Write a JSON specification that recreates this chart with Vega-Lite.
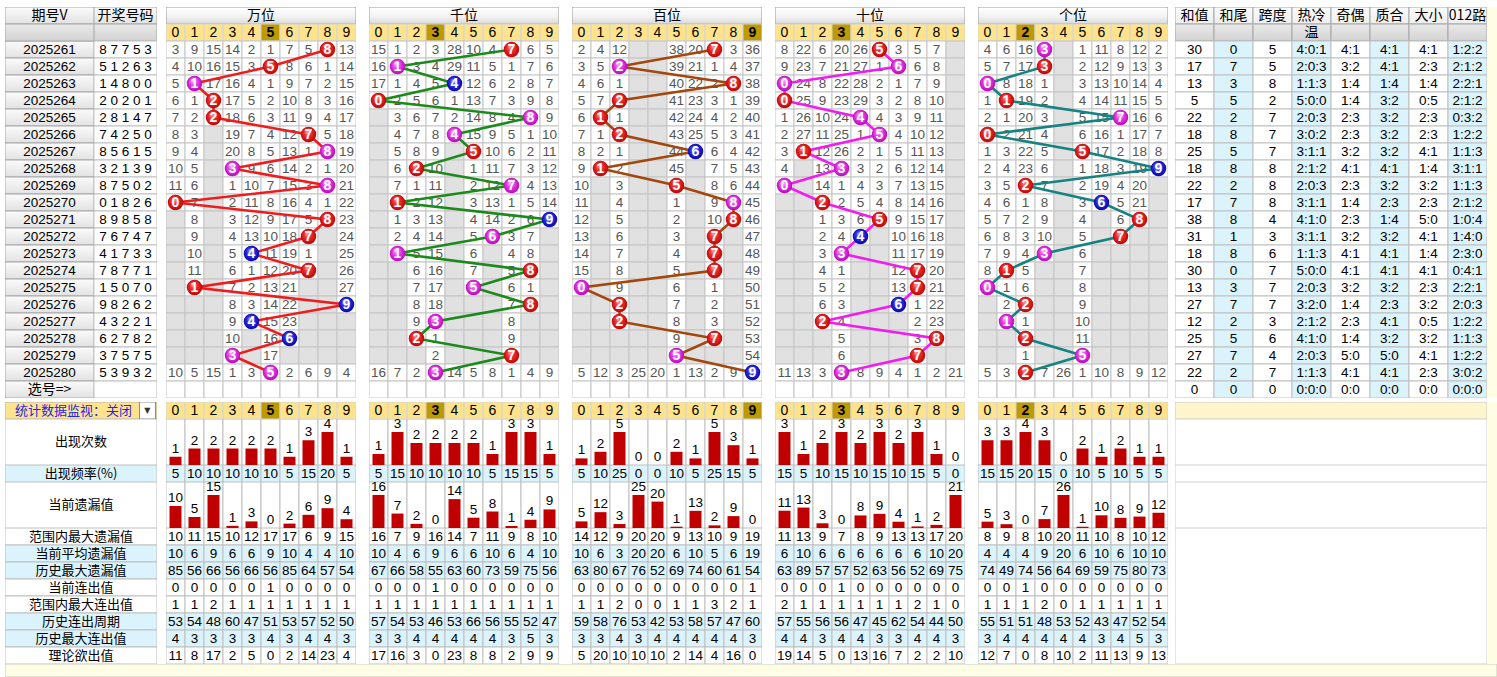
{
"$schema":"https://vega.github.io/schema/vega-lite/v6.json",
"padding":{"left":5,"top":7,"right":0,"bottom":0},
"background":"#ffffff",
"spacing":4,
"config":{
 "view":{"stroke":null},
 "scale":{"bandPaddingInner":0,"bandPaddingOuter":0,"barBandPaddingInner":0,"rectBandPaddingInner":0},
 "text":{"font":"Liberation Sans","fontSize":13,"color":"#000000"},
 "facet":{"spacing":13}
},
"datasets":{
 "left":[{"r":"h1","a":"期号V","b":"开奖号码"},{"r":"h2"},
  {"r":"2025261","b":"8 7 7 5 3"},{"r":"2025262","b":"5 1 2 6 3"},{"r":"2025263","b":"1 4 8 0 0"},{"r":"2025264","b":"2 0 2 0 1"},{"r":"2025265","b":"2 8 1 4 7"},
  {"r":"2025266","b":"7 4 2 5 0"},{"r":"2025267","b":"8 5 6 1 5"},{"r":"2025268","b":"3 2 1 3 9"},{"r":"2025269","b":"8 7 5 0 2"},{"r":"2025270","b":"0 1 8 2 6"},
  {"r":"2025271","b":"8 9 8 5 8"},{"r":"2025272","b":"7 6 7 4 7"},{"r":"2025273","b":"4 1 7 3 3"},{"r":"2025274","b":"7 8 7 7 1"},{"r":"2025275","b":"1 5 0 7 0"},
  {"r":"2025276","b":"9 8 2 6 2"},{"r":"2025277","b":"4 3 2 2 1"},{"r":"2025278","b":"6 2 7 8 2"},{"r":"2025279","b":"3 7 5 7 5"},{"r":"2025280","b":"5 3 9 3 2"},
  {"r":"sel","a":"选号=>"}],
 "st":[{"r":"h1","和值":"和值","和尾":"和尾","跨度":"跨度","热冷温":"热冷","奇偶":"奇偶","质合":"质合","大小":"大小","012路":"012路"},
  {"r":"h2","热冷温":"温"},
  {"r":"2025261","和值":30,"和尾":0,"跨度":5,"热冷温":"4:0:1","奇偶":"4:1","质合":"4:1","大小":"4:1","012路":"1:2:2"},
  {"r":"2025262","和值":17,"和尾":7,"跨度":5,"热冷温":"2:0:3","奇偶":"3:2","质合":"4:1","大小":"2:3","012路":"2:1:2"},
  {"r":"2025263","和值":13,"和尾":3,"跨度":8,"热冷温":"1:1:3","奇偶":"1:4","质合":"1:4","大小":"1:4","012路":"2:2:1"},
  {"r":"2025264","和值":5,"和尾":5,"跨度":2,"热冷温":"5:0:0","奇偶":"1:4","质合":"3:2","大小":"0:5","012路":"2:1:2"},
  {"r":"2025265","和值":22,"和尾":2,"跨度":7,"热冷温":"2:0:3","奇偶":"2:3","质合":"3:2","大小":"2:3","012路":"0:3:2"},
  {"r":"2025266","和值":18,"和尾":8,"跨度":7,"热冷温":"3:0:2","奇偶":"2:3","质合":"3:2","大小":"2:3","012路":"1:2:2"},
  {"r":"2025267","和值":25,"和尾":5,"跨度":7,"热冷温":"3:1:1","奇偶":"3:2","质合":"3:2","大小":"4:1","012路":"1:1:3"},
  {"r":"2025268","和值":18,"和尾":8,"跨度":8,"热冷温":"2:1:2","奇偶":"4:1","质合":"4:1","大小":"1:4","012路":"3:1:1"},
  {"r":"2025269","和值":22,"和尾":2,"跨度":8,"热冷温":"2:0:3","奇偶":"2:3","质合":"3:2","大小":"3:2","012路":"1:1:3"},
  {"r":"2025270","和值":17,"和尾":7,"跨度":8,"热冷温":"3:1:1","奇偶":"1:4","质合":"2:3","大小":"2:3","012路":"2:1:2"},
  {"r":"2025271","和值":38,"和尾":8,"跨度":4,"热冷温":"4:1:0","奇偶":"2:3","质合":"1:4","大小":"5:0","012路":"1:0:4"},
  {"r":"2025272","和值":31,"和尾":1,"跨度":3,"热冷温":"3:1:1","奇偶":"3:2","质合":"3:2","大小":"4:1","012路":"1:4:0"},
  {"r":"2025273","和值":18,"和尾":8,"跨度":6,"热冷温":"1:1:3","奇偶":"4:1","质合":"4:1","大小":"1:4","012路":"2:3:0"},
  {"r":"2025274","和值":30,"和尾":0,"跨度":7,"热冷温":"5:0:0","奇偶":"4:1","质合":"4:1","大小":"4:1","012路":"0:4:1"},
  {"r":"2025275","和值":13,"和尾":3,"跨度":7,"热冷温":"2:0:3","奇偶":"3:2","质合":"3:2","大小":"2:3","012路":"2:2:1"},
  {"r":"2025276","和值":27,"和尾":7,"跨度":7,"热冷温":"3:2:0","奇偶":"1:4","质合":"2:3","大小":"3:2","012路":"2:0:3"},
  {"r":"2025277","和值":12,"和尾":2,"跨度":3,"热冷温":"2:1:2","奇偶":"2:3","质合":"4:1","大小":"0:5","012路":"1:2:2"},
  {"r":"2025278","和值":25,"和尾":5,"跨度":6,"热冷温":"4:1:0","奇偶":"1:4","质合":"3:2","大小":"3:2","012路":"1:1:3"},
  {"r":"2025279","和值":27,"和尾":7,"跨度":4,"热冷温":"2:0:3","奇偶":"5:0","质合":"5:0","大小":"4:1","012路":"1:2:2"},
  {"r":"2025280","和值":22,"和尾":2,"跨度":7,"热冷温":"1:1:3","奇偶":"4:1","质合":"4:1","大小":"2:3","012路":"3:0:2"},
  {"r":"sel","和值":0,"和尾":0,"跨度":0,"热冷温":"0:0:0","奇偶":"0:0","质合":"0:0","大小":"0:0","012路":"0:0:0"}],
 "top":[
  {"k":"h","p":"万位","r":"h1"},{"k":"dh","p":"万位","r":"h2","cur":"5"},
  {"k":"c","p":"万位","r":"2025261","t":"热","0":3,"1":9,"2":15,"3":14,"4":2,"5":1,"6":7,"7":5,"8":0,"9":13},
  {"k":"c","p":"万位","r":"2025262","t":"热","0":4,"1":10,"2":16,"3":15,"4":3,"5":0,"6":8,"7":6,"8":1,"9":14},
  {"k":"c","p":"万位","r":"2025263","t":"温","0":5,"1":0,"2":17,"3":16,"4":4,"5":1,"6":9,"7":7,"8":2,"9":15},
  {"k":"c","p":"万位","r":"2025264","t":"热","0":6,"1":1,"2":0,"3":17,"4":5,"5":2,"6":10,"7":8,"8":3,"9":16},
  {"k":"c","p":"万位","r":"2025265","t":"热","0":7,"1":2,"2":0,"3":18,"4":6,"5":3,"6":11,"7":9,"8":4,"9":17},
  {"k":"c","p":"万位","r":"2025266","t":"热","0":8,"1":3,"2":null,"3":19,"4":7,"5":4,"6":12,"7":0,"8":5,"9":18},
  {"k":"c","p":"万位","r":"2025267","t":"温","0":9,"1":4,"2":null,"3":20,"4":8,"5":5,"6":13,"7":1,"8":0,"9":19},
  {"k":"c","p":"万位","r":"2025268","t":"温","0":10,"1":5,"2":null,"3":0,"4":9,"5":6,"6":14,"7":2,"8":1,"9":20},
  {"k":"c","p":"万位","r":"2025269","t":"温","0":11,"1":6,"2":null,"3":1,"4":10,"5":7,"6":15,"7":3,"8":0,"9":21},
  {"k":"c","p":"万位","r":"2025270","t":"热","0":0,"1":7,"2":null,"3":2,"4":11,"5":8,"6":16,"7":4,"8":1,"9":22},
  {"k":"c","p":"万位","r":"2025271","t":"热","0":null,"1":8,"2":null,"3":3,"4":12,"5":9,"6":17,"7":5,"8":0,"9":23},
  {"k":"c","p":"万位","r":"2025272","t":"热","0":null,"1":9,"2":null,"3":4,"4":13,"5":10,"6":18,"7":0,"8":null,"9":24},
  {"k":"c","p":"万位","r":"2025273","t":"冷","0":null,"1":10,"2":null,"3":5,"4":0,"5":11,"6":19,"7":1,"8":null,"9":25},
  {"k":"c","p":"万位","r":"2025274","t":"热","0":null,"1":11,"2":null,"3":6,"4":1,"5":12,"6":20,"7":0,"8":null,"9":26},
  {"k":"c","p":"万位","r":"2025275","t":"热","0":null,"1":0,"2":null,"3":7,"4":2,"5":13,"6":21,"7":null,"8":null,"9":27},
  {"k":"c","p":"万位","r":"2025276","t":"冷","0":null,"1":null,"2":null,"3":8,"4":3,"5":14,"6":22,"7":null,"8":null,"9":0},
  {"k":"c","p":"万位","r":"2025277","t":"冷","0":null,"1":null,"2":null,"3":9,"4":0,"5":15,"6":23,"7":null,"8":null,"9":null},
  {"k":"c","p":"万位","r":"2025278","t":"冷","0":null,"1":null,"2":null,"3":10,"4":null,"5":16,"6":0,"7":null,"8":null,"9":null},
  {"k":"c","p":"万位","r":"2025279","t":"温","0":null,"1":null,"2":null,"3":0,"4":null,"5":17,"6":null,"7":null,"8":null,"9":null},
  {"k":"c","p":"万位","r":"2025280","t":"温","0":10,"1":5,"2":15,"3":1,"4":3,"5":0,"6":2,"7":6,"8":9,"9":4},
  {"k":"c","p":"万位","r":"sel"},
  {"k":"h","p":"千位","r":"h1"},{"k":"dh","p":"千位","r":"h2","cur":"3"},
  {"k":"c","p":"千位","r":"2025261","t":"热","0":15,"1":1,"2":2,"3":3,"4":28,"5":10,"6":4,"7":0,"8":6,"9":5},
  {"k":"c","p":"千位","r":"2025262","t":"温","0":16,"1":0,"2":3,"3":4,"4":29,"5":11,"6":5,"7":1,"8":7,"9":6},
  {"k":"c","p":"千位","r":"2025263","t":"冷","0":17,"1":1,"2":4,"3":5,"4":0,"5":12,"6":6,"7":2,"8":8,"9":7},
  {"k":"c","p":"千位","r":"2025264","t":"热","0":0,"1":2,"2":5,"3":6,"4":1,"5":13,"6":7,"7":3,"8":9,"9":8},
  {"k":"c","p":"千位","r":"2025265","t":"温","0":null,"1":3,"2":6,"3":7,"4":2,"5":14,"6":8,"7":4,"8":0,"9":9},
  {"k":"c","p":"千位","r":"2025266","t":"温","0":null,"1":4,"2":7,"3":8,"4":0,"5":15,"6":9,"7":5,"8":1,"9":10},
  {"k":"c","p":"千位","r":"2025267","t":"热","0":null,"1":5,"2":8,"3":9,"4":null,"5":0,"6":10,"7":6,"8":2,"9":11},
  {"k":"c","p":"千位","r":"2025268","t":"热","0":null,"1":6,"2":0,"3":10,"4":null,"5":1,"6":11,"7":7,"8":3,"9":12},
  {"k":"c","p":"千位","r":"2025269","t":"温","0":null,"1":7,"2":1,"3":11,"4":null,"5":2,"6":12,"7":0,"8":4,"9":13},
  {"k":"c","p":"千位","r":"2025270","t":"热","0":null,"1":0,"2":2,"3":12,"4":null,"5":3,"6":13,"7":1,"8":5,"9":14},
  {"k":"c","p":"千位","r":"2025271","t":"冷","0":null,"1":1,"2":3,"3":13,"4":null,"5":4,"6":14,"7":2,"8":6,"9":0},
  {"k":"c","p":"千位","r":"2025272","t":"温","0":null,"1":2,"2":4,"3":14,"4":null,"5":5,"6":0,"7":3,"8":7,"9":null},
  {"k":"c","p":"千位","r":"2025273","t":"温","0":null,"1":0,"2":5,"3":15,"4":null,"5":6,"6":null,"7":4,"8":8,"9":null},
  {"k":"c","p":"千位","r":"2025274","t":"热","0":null,"1":null,"2":6,"3":16,"4":null,"5":7,"6":null,"7":5,"8":0,"9":null},
  {"k":"c","p":"千位","r":"2025275","t":"温","0":null,"1":null,"2":7,"3":17,"4":null,"5":0,"6":null,"7":6,"8":1,"9":null},
  {"k":"c","p":"千位","r":"2025276","t":"热","0":null,"1":null,"2":8,"3":18,"4":null,"5":null,"6":null,"7":7,"8":0,"9":null},
  {"k":"c","p":"千位","r":"2025277","t":"温","0":null,"1":null,"2":9,"3":0,"4":null,"5":null,"6":null,"7":8,"8":null,"9":null},
  {"k":"c","p":"千位","r":"2025278","t":"热","0":null,"1":null,"2":0,"3":1,"4":null,"5":null,"6":null,"7":9,"8":null,"9":null},
  {"k":"c","p":"千位","r":"2025279","t":"热","0":null,"1":null,"2":null,"3":2,"4":null,"5":null,"6":null,"7":0,"8":null,"9":null},
  {"k":"c","p":"千位","r":"2025280","t":"温","0":16,"1":7,"2":2,"3":0,"4":14,"5":5,"6":8,"7":1,"8":4,"9":9},
  {"k":"c","p":"千位","r":"sel"},
  {"k":"h","p":"百位","r":"h1"},{"k":"dh","p":"百位","r":"h2","cur":"9"},
  {"k":"c","p":"百位","r":"2025261","t":"热","0":2,"1":4,"2":12,"3":null,"4":null,"5":38,"6":20,"7":0,"8":3,"9":36},
  {"k":"c","p":"百位","r":"2025262","t":"温","0":3,"1":5,"2":0,"3":null,"4":null,"5":39,"6":21,"7":1,"8":4,"9":37},
  {"k":"c","p":"百位","r":"2025263","t":"热","0":4,"1":6,"2":1,"3":null,"4":null,"5":40,"6":22,"7":2,"8":0,"9":38},
  {"k":"c","p":"百位","r":"2025264","t":"热","0":5,"1":7,"2":0,"3":null,"4":null,"5":41,"6":23,"7":3,"8":1,"9":39},
  {"k":"c","p":"百位","r":"2025265","t":"热","0":6,"1":0,"2":1,"3":null,"4":null,"5":42,"6":24,"7":4,"8":2,"9":40},
  {"k":"c","p":"百位","r":"2025266","t":"热","0":7,"1":1,"2":0,"3":null,"4":null,"5":43,"6":25,"7":5,"8":3,"9":41},
  {"k":"c","p":"百位","r":"2025267","t":"冷","0":8,"1":2,"2":1,"3":null,"4":null,"5":44,"6":0,"7":6,"8":4,"9":42},
  {"k":"c","p":"百位","r":"2025268","t":"热","0":9,"1":0,"2":2,"3":null,"4":null,"5":45,"6":null,"7":7,"8":5,"9":43},
  {"k":"c","p":"百位","r":"2025269","t":"热","0":10,"1":null,"2":3,"3":null,"4":null,"5":0,"6":null,"7":8,"8":6,"9":44},
  {"k":"c","p":"百位","r":"2025270","t":"温","0":11,"1":null,"2":4,"3":null,"4":null,"5":1,"6":null,"7":9,"8":0,"9":45},
  {"k":"c","p":"百位","r":"2025271","t":"热","0":12,"1":null,"2":5,"3":null,"4":null,"5":2,"6":null,"7":10,"8":0,"9":46},
  {"k":"c","p":"百位","r":"2025272","t":"热","0":13,"1":null,"2":6,"3":null,"4":null,"5":3,"6":null,"7":0,"8":null,"9":47},
  {"k":"c","p":"百位","r":"2025273","t":"热","0":14,"1":null,"2":7,"3":null,"4":null,"5":4,"6":null,"7":0,"8":null,"9":48},
  {"k":"c","p":"百位","r":"2025274","t":"热","0":15,"1":null,"2":8,"3":null,"4":null,"5":5,"6":null,"7":0,"8":null,"9":49},
  {"k":"c","p":"百位","r":"2025275","t":"温","0":0,"1":null,"2":9,"3":null,"4":null,"5":6,"6":null,"7":1,"8":null,"9":50},
  {"k":"c","p":"百位","r":"2025276","t":"热","0":null,"1":null,"2":0,"3":null,"4":null,"5":7,"6":null,"7":2,"8":null,"9":51},
  {"k":"c","p":"百位","r":"2025277","t":"热","0":null,"1":null,"2":0,"3":null,"4":null,"5":8,"6":null,"7":3,"8":null,"9":52},
  {"k":"c","p":"百位","r":"2025278","t":"热","0":null,"1":null,"2":null,"3":null,"4":null,"5":9,"6":null,"7":0,"8":null,"9":53},
  {"k":"c","p":"百位","r":"2025279","t":"温","0":null,"1":null,"2":null,"3":null,"4":null,"5":0,"6":null,"7":null,"8":null,"9":54},
  {"k":"c","p":"百位","r":"2025280","t":"冷","0":5,"1":12,"2":3,"3":25,"4":20,"5":1,"6":13,"7":2,"8":9,"9":0},
  {"k":"c","p":"百位","r":"sel"},
  {"k":"h","p":"十位","r":"h1"},{"k":"dh","p":"十位","r":"h2","cur":"3"},
  {"k":"c","p":"十位","r":"2025261","t":"热","0":8,"1":22,"2":6,"3":20,"4":26,"5":0,"6":3,"7":5,"8":7,"9":null},
  {"k":"c","p":"十位","r":"2025262","t":"温","0":9,"1":23,"2":7,"3":21,"4":27,"5":1,"6":0,"7":6,"8":8,"9":null},
  {"k":"c","p":"十位","r":"2025263","t":"温","0":0,"1":24,"2":8,"3":22,"4":28,"5":2,"6":1,"7":7,"8":9,"9":null},
  {"k":"c","p":"十位","r":"2025264","t":"热","0":0,"1":25,"2":9,"3":23,"4":29,"5":3,"6":2,"7":8,"8":10,"9":null},
  {"k":"c","p":"十位","r":"2025265","t":"温","0":1,"1":26,"2":10,"3":24,"4":0,"5":4,"6":3,"7":9,"8":11,"9":null},
  {"k":"c","p":"十位","r":"2025266","t":"温","0":2,"1":27,"2":11,"3":25,"4":1,"5":0,"6":4,"7":10,"8":12,"9":null},
  {"k":"c","p":"十位","r":"2025267","t":"热","0":3,"1":0,"2":12,"3":26,"4":2,"5":1,"6":5,"7":11,"8":13,"9":null},
  {"k":"c","p":"十位","r":"2025268","t":"温","0":4,"1":null,"2":13,"3":0,"4":3,"5":2,"6":6,"7":12,"8":14,"9":null},
  {"k":"c","p":"十位","r":"2025269","t":"温","0":0,"1":null,"2":14,"3":1,"4":4,"5":3,"6":7,"7":13,"8":15,"9":null},
  {"k":"c","p":"十位","r":"2025270","t":"热","0":null,"1":null,"2":0,"3":2,"4":5,"5":4,"6":8,"7":14,"8":16,"9":null},
  {"k":"c","p":"十位","r":"2025271","t":"热","0":null,"1":null,"2":1,"3":3,"4":6,"5":0,"6":9,"7":15,"8":17,"9":null},
  {"k":"c","p":"十位","r":"2025272","t":"冷","0":null,"1":null,"2":2,"3":4,"4":0,"5":null,"6":10,"7":16,"8":18,"9":null},
  {"k":"c","p":"十位","r":"2025273","t":"温","0":null,"1":null,"2":3,"3":0,"4":null,"5":null,"6":11,"7":17,"8":19,"9":null},
  {"k":"c","p":"十位","r":"2025274","t":"热","0":null,"1":null,"2":4,"3":1,"4":null,"5":null,"6":12,"7":0,"8":20,"9":null},
  {"k":"c","p":"十位","r":"2025275","t":"热","0":null,"1":null,"2":5,"3":2,"4":null,"5":null,"6":13,"7":0,"8":21,"9":null},
  {"k":"c","p":"十位","r":"2025276","t":"冷","0":null,"1":null,"2":6,"3":3,"4":null,"5":null,"6":0,"7":1,"8":22,"9":null},
  {"k":"c","p":"十位","r":"2025277","t":"热","0":null,"1":null,"2":0,"3":4,"4":null,"5":null,"6":null,"7":2,"8":23,"9":null},
  {"k":"c","p":"十位","r":"2025278","t":"热","0":null,"1":null,"2":null,"3":5,"4":null,"5":null,"6":null,"7":3,"8":0,"9":null},
  {"k":"c","p":"十位","r":"2025279","t":"热","0":null,"1":null,"2":null,"3":6,"4":null,"5":null,"6":null,"7":0,"8":null,"9":null},
  {"k":"c","p":"十位","r":"2025280","t":"温","0":11,"1":13,"2":3,"3":0,"4":8,"5":9,"6":4,"7":1,"8":2,"9":21},
  {"k":"c","p":"十位","r":"sel"},
  {"k":"h","p":"个位","r":"h1"},{"k":"dh","p":"个位","r":"h2","cur":"2"},
  {"k":"c","p":"个位","r":"2025261","t":"温","0":4,"1":6,"2":16,"3":0,"4":null,"5":1,"6":11,"7":8,"8":12,"9":2},
  {"k":"c","p":"个位","r":"2025262","t":"热","0":5,"1":7,"2":17,"3":0,"4":null,"5":2,"6":12,"7":9,"8":13,"9":3},
  {"k":"c","p":"个位","r":"2025263","t":"温","0":0,"1":8,"2":18,"3":1,"4":null,"5":3,"6":13,"7":10,"8":14,"9":4},
  {"k":"c","p":"个位","r":"2025264","t":"热","0":1,"1":0,"2":19,"3":2,"4":null,"5":4,"6":14,"7":11,"8":15,"9":5},
  {"k":"c","p":"个位","r":"2025265","t":"温","0":2,"1":1,"2":20,"3":3,"4":null,"5":5,"6":15,"7":0,"8":16,"9":6},
  {"k":"c","p":"个位","r":"2025266","t":"热","0":0,"1":2,"2":21,"3":4,"4":null,"5":6,"6":16,"7":1,"8":17,"9":7},
  {"k":"c","p":"个位","r":"2025267","t":"热","0":1,"1":3,"2":22,"3":5,"4":null,"5":0,"6":17,"7":2,"8":18,"9":8},
  {"k":"c","p":"个位","r":"2025268","t":"冷","0":2,"1":4,"2":23,"3":6,"4":null,"5":1,"6":18,"7":3,"8":19,"9":0},
  {"k":"c","p":"个位","r":"2025269","t":"热","0":3,"1":5,"2":0,"3":7,"4":null,"5":2,"6":19,"7":4,"8":20,"9":null},
  {"k":"c","p":"个位","r":"2025270","t":"冷","0":4,"1":6,"2":1,"3":8,"4":null,"5":3,"6":0,"7":5,"8":21,"9":null},
  {"k":"c","p":"个位","r":"2025271","t":"热","0":5,"1":7,"2":2,"3":9,"4":null,"5":4,"6":null,"7":6,"8":0,"9":null},
  {"k":"c","p":"个位","r":"2025272","t":"热","0":6,"1":8,"2":3,"3":10,"4":null,"5":5,"6":null,"7":0,"8":null,"9":null},
  {"k":"c","p":"个位","r":"2025273","t":"温","0":7,"1":9,"2":4,"3":0,"4":null,"5":6,"6":null,"7":null,"8":null,"9":null},
  {"k":"c","p":"个位","r":"2025274","t":"热","0":8,"1":0,"2":5,"3":null,"4":null,"5":7,"6":null,"7":null,"8":null,"9":null},
  {"k":"c","p":"个位","r":"2025275","t":"温","0":0,"1":1,"2":6,"3":null,"4":null,"5":8,"6":null,"7":null,"8":null,"9":null},
  {"k":"c","p":"个位","r":"2025276","t":"热","0":null,"1":2,"2":0,"3":null,"4":null,"5":9,"6":null,"7":null,"8":null,"9":null},
  {"k":"c","p":"个位","r":"2025277","t":"温","0":null,"1":0,"2":1,"3":null,"4":null,"5":10,"6":null,"7":null,"8":null,"9":null},
  {"k":"c","p":"个位","r":"2025278","t":"热","0":null,"1":null,"2":0,"3":null,"4":null,"5":11,"6":null,"7":null,"8":null,"9":null},
  {"k":"c","p":"个位","r":"2025279","t":"温","0":null,"1":null,"2":1,"3":null,"4":null,"5":0,"6":null,"7":null,"8":null,"9":null},
  {"k":"c","p":"个位","r":"2025280","t":"热","0":5,"1":3,"2":0,"3":7,"4":26,"5":1,"6":10,"7":8,"8":9,"9":12},
  {"k":"c","p":"个位","r":"sel"}
 ],
 "dhdr":[{"p":"万位","cur":"5"},{"p":"千位","cur":"3"},{"p":"百位","cur":"9"},{"p":"十位","cur":"3"},{"p":"个位","cur":"2"}],
 "cnt":[
  {"p":"万位","0":1,"1":2,"2":2,"3":2,"4":2,"5":2,"6":1,"7":3,"8":4,"9":1},
  {"p":"千位","0":1,"1":3,"2":2,"3":2,"4":2,"5":2,"6":1,"7":3,"8":3,"9":1},
  {"p":"百位","0":1,"1":2,"2":5,"3":0,"4":0,"5":2,"6":1,"7":5,"8":3,"9":1},
  {"p":"十位","0":3,"1":1,"2":2,"3":3,"4":2,"5":3,"6":2,"7":3,"8":1,"9":0},
  {"p":"个位","0":3,"1":3,"2":4,"3":3,"4":0,"5":2,"6":1,"7":2,"8":1,"9":1}],
 "frq":[
  {"p":"万位","0":5,"1":10,"2":10,"3":10,"4":10,"5":10,"6":5,"7":15,"8":20,"9":5},
  {"p":"千位","0":5,"1":15,"2":10,"3":10,"4":10,"5":10,"6":5,"7":15,"8":15,"9":5},
  {"p":"百位","0":5,"1":10,"2":25,"3":0,"4":0,"5":10,"6":5,"7":25,"8":15,"9":5},
  {"p":"十位","0":15,"1":5,"2":10,"3":15,"4":10,"5":15,"6":10,"7":15,"8":5,"9":0},
  {"p":"个位","0":15,"1":15,"2":20,"3":15,"4":0,"5":10,"6":5,"7":10,"8":5,"9":5}],
 "omi":[
  {"p":"万位","0":10,"1":5,"2":15,"3":1,"4":3,"5":0,"6":2,"7":6,"8":9,"9":4},
  {"p":"千位","0":16,"1":7,"2":2,"3":0,"4":14,"5":5,"6":8,"7":1,"8":4,"9":9},
  {"p":"百位","0":5,"1":12,"2":3,"3":25,"4":20,"5":1,"6":13,"7":2,"8":9,"9":0},
  {"p":"十位","0":11,"1":13,"2":3,"3":0,"4":8,"5":9,"6":4,"7":1,"8":2,"9":21},
  {"p":"个位","0":5,"1":3,"2":0,"3":7,"4":26,"5":1,"6":10,"7":8,"8":9,"9":12}],
 "s8":[
  {"p":"万位","m":"范围内最大遗漏值","0":10,"1":11,"2":15,"3":10,"4":12,"5":17,"6":17,"7":6,"8":9,"9":15},
  {"p":"万位","m":"当前平均遗漏值","0":10,"1":6,"2":9,"3":6,"4":6,"5":9,"6":10,"7":4,"8":4,"9":10},
  {"p":"万位","m":"历史最大遗漏值","0":85,"1":56,"2":66,"3":56,"4":66,"5":56,"6":85,"7":64,"8":57,"9":54},
  {"p":"万位","m":"当前连出值","0":0,"1":0,"2":0,"3":0,"4":0,"5":1,"6":0,"7":0,"8":0,"9":0},
  {"p":"万位","m":"范围内最大连出值","0":1,"1":1,"2":2,"3":1,"4":1,"5":1,"6":1,"7":1,"8":1,"9":1},
  {"p":"万位","m":"历史连出周期","0":53,"1":54,"2":48,"3":60,"4":47,"5":51,"6":53,"7":57,"8":52,"9":50},
  {"p":"万位","m":"历史最大连出值","0":4,"1":3,"2":3,"3":3,"4":3,"5":4,"6":3,"7":4,"8":4,"9":3},
  {"p":"万位","m":"理论欲出值","0":11,"1":8,"2":17,"3":2,"4":5,"5":0,"6":2,"7":14,"8":23,"9":4},
  {"p":"千位","m":"范围内最大遗漏值","0":16,"1":7,"2":9,"3":16,"4":14,"5":7,"6":11,"7":9,"8":8,"9":10},
  {"p":"千位","m":"当前平均遗漏值","0":10,"1":4,"2":6,"3":9,"4":6,"5":6,"6":10,"7":6,"8":4,"9":10},
  {"p":"千位","m":"历史最大遗漏值","0":67,"1":66,"2":58,"3":55,"4":63,"5":60,"6":73,"7":59,"8":75,"9":56},
  {"p":"千位","m":"当前连出值","0":0,"1":0,"2":0,"3":1,"4":0,"5":0,"6":0,"7":0,"8":0,"9":0},
  {"p":"千位","m":"范围内最大连出值","0":1,"1":1,"2":1,"3":1,"4":1,"5":1,"6":1,"7":1,"8":1,"9":1},
  {"p":"千位","m":"历史连出周期","0":57,"1":54,"2":53,"3":46,"4":53,"5":66,"6":56,"7":55,"8":52,"9":47},
  {"p":"千位","m":"历史最大连出值","0":3,"1":3,"2":4,"3":4,"4":4,"5":4,"6":4,"7":3,"8":5,"9":3},
  {"p":"千位","m":"理论欲出值","0":17,"1":16,"2":3,"3":0,"4":23,"5":8,"6":8,"7":2,"8":9,"9":9},
  {"p":"百位","m":"范围内最大遗漏值","0":14,"1":12,"2":9,"3":20,"4":20,"5":9,"6":13,"7":10,"8":9,"9":19},
  {"p":"百位","m":"当前平均遗漏值","0":10,"1":6,"2":3,"3":20,"4":20,"5":6,"6":10,"7":5,"8":6,"9":19},
  {"p":"百位","m":"历史最大遗漏值","0":63,"1":80,"2":67,"3":76,"4":52,"5":69,"6":74,"7":60,"8":61,"9":54},
  {"p":"百位","m":"当前连出值","0":0,"1":0,"2":0,"3":0,"4":0,"5":0,"6":0,"7":0,"8":0,"9":1},
  {"p":"百位","m":"范围内最大连出值","0":1,"1":1,"2":2,"3":0,"4":0,"5":1,"6":1,"7":3,"8":2,"9":1},
  {"p":"百位","m":"历史连出周期","0":59,"1":58,"2":76,"3":53,"4":42,"5":53,"6":58,"7":57,"8":47,"9":60},
  {"p":"百位","m":"历史最大连出值","0":3,"1":3,"2":4,"3":3,"4":4,"5":4,"6":4,"7":4,"8":4,"9":3},
  {"p":"百位","m":"理论欲出值","0":5,"1":20,"2":10,"3":10,"4":10,"5":2,"6":14,"7":4,"8":16,"9":0},
  {"p":"十位","m":"范围内最大遗漏值","0":11,"1":13,"2":9,"3":7,"4":8,"5":9,"6":13,"7":13,"8":17,"9":20},
  {"p":"十位","m":"当前平均遗漏值","0":6,"1":10,"2":6,"3":6,"4":6,"5":6,"6":6,"7":6,"8":10,"9":20},
  {"p":"十位","m":"历史最大遗漏值","0":63,"1":89,"2":57,"3":57,"4":52,"5":63,"6":56,"7":52,"8":69,"9":75},
  {"p":"十位","m":"当前连出值","0":0,"1":0,"2":0,"3":1,"4":0,"5":0,"6":0,"7":0,"8":0,"9":0},
  {"p":"十位","m":"范围内最大连出值","0":2,"1":1,"2":1,"3":1,"4":1,"5":1,"6":1,"7":2,"8":1,"9":0},
  {"p":"十位","m":"历史连出周期","0":57,"1":55,"2":56,"3":56,"4":47,"5":45,"6":62,"7":54,"8":44,"9":50},
  {"p":"十位","m":"历史最大连出值","0":4,"1":4,"2":3,"3":4,"4":4,"5":3,"6":3,"7":4,"8":4,"9":3},
  {"p":"十位","m":"理论欲出值","0":19,"1":14,"2":5,"3":0,"4":13,"5":16,"6":7,"7":2,"8":2,"9":10},
  {"p":"个位","m":"范围内最大遗漏值","0":8,"1":9,"2":8,"3":10,"4":20,"5":11,"6":10,"7":8,"8":10,"9":12},
  {"p":"个位","m":"当前平均遗漏值","0":4,"1":4,"2":4,"3":9,"4":20,"5":6,"6":10,"7":6,"8":10,"9":10},
  {"p":"个位","m":"历史最大遗漏值","0":74,"1":49,"2":74,"3":56,"4":64,"5":69,"6":59,"7":75,"8":80,"9":73},
  {"p":"个位","m":"当前连出值","0":0,"1":0,"2":1,"3":0,"4":0,"5":0,"6":0,"7":0,"8":0,"9":0},
  {"p":"个位","m":"范围内最大连出值","0":1,"1":1,"2":1,"3":2,"4":0,"5":1,"6":1,"7":1,"8":1,"9":1},
  {"p":"个位","m":"历史连出周期","0":55,"1":51,"2":51,"3":48,"4":53,"5":52,"6":43,"7":47,"8":52,"9":54},
  {"p":"个位","m":"历史最大连出值","0":3,"1":4,"2":4,"3":4,"4":4,"5":4,"6":3,"7":4,"8":5,"9":3},
  {"p":"个位","m":"理论欲出值","0":12,"1":7,"2":0,"3":8,"4":10,"5":2,"6":11,"7":13,"8":9,"9":13}]
},
"vconcat":[
 {"hconcat":[
  {"hconcat":[
   {"width":89,"height":391,"data":{"name":"left"},
    "encoding":{"y":{"field":"r","type":"nominal","scale":{"domain":["h1","h2","2025261","2025262","2025263","2025264","2025265","2025266","2025267","2025268","2025269","2025270","2025271","2025272","2025273","2025274","2025275","2025276","2025277","2025278","2025279","2025280","sel"]},"axis":null}},
    "layer":[
     {"transform":[{"filter":"datum.r!=='h2'"}],"mark":{"type":"rect","clip":true,"stroke":"#a6a6a6","fill":{"gradient":"linear","x1":0,"y1":0,"x2":0,"y2":1,"stops":[{"offset":0,"color":"#fbfbfb"},{"offset":1,"color":"#e2e2e2"}]}}},
     {"transform":[{"filter":"datum.r==='h2'"}],"mark":{"type":"rect","clip":true,"stroke":"#a6a6a6","fill":{"gradient":"linear","x1":0,"y1":0,"x2":0,"y2":1,"stops":[{"offset":0,"color":"#e9e9e9"},{"offset":1,"color":"#d3d3d3"}]}}},
     {"transform":[{"filter":"datum.r==='h1'||datum.r==='sel'"}],"mark":{"type":"text","clip":true,"font":"Noto Sans CJK SC","fontSize":14},"encoding":{"text":{"field":"a"}}},
     {"transform":[{"filter":"datum.r!=='h1'&&datum.r!=='h2'&&datum.r!=='sel'"}],"mark":{"type":"text","clip":true,"fontSize":13.5},"encoding":{"text":{"field":"r"}}}
    ]},
   {"width":63,"height":391,"data":{"name":"left"},
    "encoding":{"y":{"field":"r","type":"nominal","scale":{"domain":["h1","h2","2025261","2025262","2025263","2025264","2025265","2025266","2025267","2025268","2025269","2025270","2025271","2025272","2025273","2025274","2025275","2025276","2025277","2025278","2025279","2025280","sel"]},"axis":null}},
    "layer":[
     {"transform":[{"filter":"datum.r==='h1'"}],"mark":{"type":"rect","clip":true,"stroke":"#a6a6a6","fill":{"gradient":"linear","x1":0,"y1":0,"x2":0,"y2":1,"stops":[{"offset":0,"color":"#fbfbfb"},{"offset":1,"color":"#e2e2e2"}]}}},
     {"transform":[{"filter":"datum.r==='h2'"}],"mark":{"type":"rect","clip":true,"stroke":"#a6a6a6","fill":{"gradient":"linear","x1":0,"y1":0,"x2":0,"y2":1,"stops":[{"offset":0,"color":"#e9e9e9"},{"offset":1,"color":"#d3d3d3"}]}}},
     {"transform":[{"filter":"datum.r!=='h1'&&datum.r!=='h2'"}],"mark":{"type":"rect","clip":true,"stroke":"#bfbfbf","fill":"#ffffff"}},
     {"transform":[{"filter":"datum.r==='h1'"}],"mark":{"type":"text","clip":true,"font":"Noto Sans CJK SC","fontSize":14},"encoding":{"text":{"field":"b"}}},
     {"transform":[{"filter":"datum.r!=='h1'&&datum.r!=='h2'&&datum.r!=='sel'"}],"mark":{"type":"text","clip":true,"fontSize":13.5},"encoding":{"text":{"field":"b"}}}
    ]}
  ],"spacing":0},
  {"hconcat":[
   {"data":{"name":"top"},
    "facet":{"column":{"field":"p","type":"nominal","sort":["万位","千位","百位","十位","个位"],"header":null}},
    "spacing":13,"bounds":"flush",
    "spec":{"width":190,"height":391,
     "encoding":{"y":{"field":"r","type":"nominal","scale":{"domain":["h1","h2","2025261","2025262","2025263","2025264","2025265","2025266","2025267","2025268","2025269","2025270","2025271","2025272","2025273","2025274","2025275","2025276","2025277","2025278","2025279","2025280","sel"]},"axis":null}},
     "layer":[
      {"transform":[{"filter":"datum.k==='h'"}],"mark":{"type":"rect","clip":true,"stroke":"#9a9a9a","fill":{"gradient":"linear","x1":0,"y1":0,"x2":0,"y2":1,"stops":[{"offset":0,"color":"#ffffff"},{"offset":0.55,"color":"#f3f3f3"},{"offset":1,"color":"#d9d9d9"}]}}},
      {"transform":[{"filter":"datum.k==='h'"}],"mark":{"type":"text","clip":true,"font":"Noto Sans CJK SC","fontSize":14},"encoding":{"text":{"field":"p"}}},
      {"transform":[{"filter":"datum.k==='dh'"},{"fold":["0","1","2","3","4","5","6","7","8","9"],"as":["d","v"]}],"mark":{"type":"rect","clip":true,"stroke":"#d4d4d4"},
       "encoding":{"x":{"field":"d","type":"nominal","scale":{"domain":["0","1","2","3","4","5","6","7","8","9"]},"axis":null},"color":{"condition":{"test":"datum.d===datum.cur","value":"#be9900"},"value":"#ffe38c"}}},
      {"transform":[{"filter":"datum.k==='dh'"},{"fold":["0","1","2","3","4","5","6","7","8","9"],"as":["d","v"]},{"filter":"datum.d!==datum.cur"}],"mark":{"type":"text","clip":true,"fontSize":14},
       "encoding":{"x":{"field":"d","type":"nominal","scale":{"domain":["0","1","2","3","4","5","6","7","8","9"]},"axis":null},"text":{"field":"d"}}},
      {"transform":[{"filter":"datum.k==='dh'"},{"fold":["0","1","2","3","4","5","6","7","8","9"],"as":["d","v"]},{"filter":"datum.d===datum.cur"}],"mark":{"type":"text","clip":true,"fontSize":14,"fontWeight":"bold"},
       "encoding":{"x":{"field":"d","type":"nominal","scale":{"domain":["0","1","2","3","4","5","6","7","8","9"]},"axis":null},"text":{"field":"d"}}},
      {"transform":[{"filter":"datum.k==='c'"},{"fold":["0","1","2","3","4","5","6","7","8","9"],"as":["d","v"]}],"mark":{"type":"rect","clip":true,"stroke":"#c4c4c4"},
       "encoding":{"x":{"field":"d","type":"nominal","scale":{"domain":["0","1","2","3","4","5","6","7","8","9"]},"axis":null},"color":{"condition":{"test":"datum.v===null","value":"#e1e1e1"},"value":"#ffffff"}}},
      {"transform":[{"filter":"datum.k==='c'"},{"fold":["0","1","2","3","4","5","6","7","8","9"],"as":["d","v"]},{"filter":"isNumber(datum.v)&&datum.v>0"}],"mark":{"type":"text","clip":true,"fontSize":13.5,"color":"#555555"},
       "encoding":{"x":{"field":"d","type":"nominal","scale":{"domain":["0","1","2","3","4","5","6","7","8","9"]},"axis":null},"text":{"field":"v"}}},
      {"transform":[{"filter":"datum.k==='c'"},{"fold":["0","1","2","3","4","5","6","7","8","9"],"as":["d","v"]},{"filter":"datum.v===0"}],"mark":{"type":"line","clip":true,"strokeWidth":2.6},
       "encoding":{"x":{"field":"d","type":"nominal","scale":{"domain":["0","1","2","3","4","5","6","7","8","9"]},"axis":null},"order":{"field":"r","type":"ordinal"},
        "color":{"field":"p","type":"nominal","scale":{"domain":["万位","千位","百位","十位","个位"],"range":["#ee1c1c","#1b8a1b","#a4470e","#f01cf0","#168383"]},"legend":null}}},
      {"transform":[{"filter":"datum.k==='c'"},{"fold":["0","1","2","3","4","5","6","7","8","9"],"as":["d","v"]},{"filter":"datum.v===0&&datum.t==='热'"}],
       "mark":{"type":"circle","clip":true,"size":240,"opacity":1,"fill":{"gradient":"radial","x1":0.4,"y1":0.3,"r1":0,"x2":0.5,"y2":0.5,"r2":0.55,"stops":[{"offset":0,"color":"#ffb0b0"},{"offset":0.4,"color":"#f03030"},{"offset":1,"color":"#b50000"}]}},
       "encoding":{"x":{"field":"d","type":"nominal","scale":{"domain":["0","1","2","3","4","5","6","7","8","9"]},"axis":null}}},
      {"transform":[{"filter":"datum.k==='c'"},{"fold":["0","1","2","3","4","5","6","7","8","9"],"as":["d","v"]},{"filter":"datum.v===0&&datum.t==='温'"}],
       "mark":{"type":"circle","clip":true,"size":240,"opacity":1,"fill":{"gradient":"radial","x1":0.4,"y1":0.3,"r1":0,"x2":0.5,"y2":0.5,"r2":0.55,"stops":[{"offset":0,"color":"#ffc8ff"},{"offset":0.4,"color":"#ee48ee"},{"offset":1,"color":"#b000b0"}]}},
       "encoding":{"x":{"field":"d","type":"nominal","scale":{"domain":["0","1","2","3","4","5","6","7","8","9"]},"axis":null}}},
      {"transform":[{"filter":"datum.k==='c'"},{"fold":["0","1","2","3","4","5","6","7","8","9"],"as":["d","v"]},{"filter":"datum.v===0&&datum.t==='冷'"}],
       "mark":{"type":"circle","clip":true,"size":240,"opacity":1,"fill":{"gradient":"radial","x1":0.4,"y1":0.3,"r1":0,"x2":0.5,"y2":0.5,"r2":0.55,"stops":[{"offset":0,"color":"#b0b0ff"},{"offset":0.4,"color":"#3535ee"},{"offset":1,"color":"#0000a0"}]}},
       "encoding":{"x":{"field":"d","type":"nominal","scale":{"domain":["0","1","2","3","4","5","6","7","8","9"]},"axis":null}}},
      {"transform":[{"filter":"datum.k==='c'"},{"fold":["0","1","2","3","4","5","6","7","8","9"],"as":["d","v"]},{"filter":"datum.v===0"}],"mark":{"type":"text","clip":true,"fontSize":14,"fontWeight":"bold","color":"#ffffff"},
       "encoding":{"x":{"field":"d","type":"nominal","scale":{"domain":["0","1","2","3","4","5","6","7","8","9"]},"axis":null},"text":{"field":"d"}}}
     ]}},
   {"hconcat":[
    {"width":312,"height":391,"data":{"name":"st"},
     "transform":[{"fold":["和值","和尾","跨度","热冷温","奇偶","质合","大小","012路"],"as":["d","v"]}],
     "encoding":{"y":{"field":"r","type":"nominal","scale":{"domain":["h1","h2","2025261","2025262","2025263","2025264","2025265","2025266","2025267","2025268","2025269","2025270","2025271","2025272","2025273","2025274","2025275","2025276","2025277","2025278","2025279","2025280","sel"]},"axis":null},
       "x":{"field":"d","type":"nominal","scale":{"domain":["和值","和尾","跨度","热冷温","奇偶","质合","大小","012路"]},"axis":null}},
     "layer":[
      {"transform":[{"filter":"datum.r==='h1'"}],"mark":{"type":"rect","clip":true,"stroke":"#a6a6a6","fill":{"gradient":"linear","x1":0,"y1":0,"x2":0,"y2":1,"stops":[{"offset":0,"color":"#fbfbfb"},{"offset":1,"color":"#eeeeee"}]}}},
      {"transform":[{"filter":"datum.r==='h2'"}],"mark":{"type":"rect","clip":true,"stroke":"#a6a6a6","fill":{"gradient":"linear","x1":0,"y1":0,"x2":0,"y2":1,"stops":[{"offset":0,"color":"#e9e9e9"},{"offset":1,"color":"#d3d3d3"}]}}},
      {"transform":[{"filter":"datum.r!=='h1'&&datum.r!=='h2'"}],"mark":{"type":"rect","clip":true,"stroke":"#bfbfbf"},
       "encoding":{"color":{"condition":{"test":"indexof(['和尾','热冷温','质合','012路'],datum.d)>=0","value":"#dbf3fc"},"value":"#ffffff"}}},
      {"transform":[{"filter":"(datum.r==='h1'||datum.r==='h2')&&isValid(datum.v)"}],"mark":{"type":"text","clip":true,"font":"Noto Sans CJK SC","fontSize":14},"encoding":{"text":{"field":"v"}}},
      {"transform":[{"filter":"datum.r!=='h1'&&datum.r!=='h2'"}],"mark":{"type":"text","clip":true,"fontSize":13.5},"encoding":{"text":{"field":"v"}}}
     ]},
    {"width":10,"height":391,"data":{"values":[{}]},"mark":{"type":"rect","clip":true,"fill":"#fffde4"},"encoding":{}}
   ],"spacing":0}
  ],"spacing":7}
 ],"spacing":9},
 {"vconcat":[
  {"hconcat":[
   {"width":152,"height":17,"data":{"values":[{"t":"统计数据监视：关闭"}]},
    "layer":[
     {"mark":{"type":"rect","clip":true,"fill":"#ffe38c","stroke":"#b5b5b5"},"encoding":{}},
     {"mark":{"type":"text","clip":true,"font":"Noto Sans CJK SC","fontSize":13,"color":"#2424ee"},"encoding":{"text":{"field":"t"},"x":{"datum":0.45,"type":"quantitative","scale":{"domain":[0,1]},"axis":null}}},
     {"mark":{"type":"rect","clip":true,"fill":"#ffffff","stroke":"#8c8c8c"},"encoding":{"x":{"datum":0.885,"type":"quantitative","scale":{"domain":[0,1]},"axis":null},"x2":{"datum":0.99}}},
     {"mark":{"type":"text","clip":true,"fontSize":8,"color":"#333333","font":"DejaVu Sans"},"encoding":{"text":{"value":"▼"},"x":{"datum":0.937,"type":"quantitative","scale":{"domain":[0,1]},"axis":null}}}
    ]},
   {"hconcat":[
    {"data":{"name":"dhdr"},
     "facet":{"column":{"field":"p","type":"nominal","sort":["万位","千位","百位","十位","个位"],"header":null}},
     "spacing":13,"bounds":"flush",
     "spec":{"width":190,"height":17,
      "transform":[{"fold":["0","1","2","3","4","5","6","7","8","9"],"as":["d","v"]}],
      "encoding":{"x":{"field":"d","type":"nominal","scale":{"domain":["0","1","2","3","4","5","6","7","8","9"]},"axis":null}},
      "layer":[
       {"mark":{"type":"rect","clip":true,"stroke":"#d4d4d4"},"encoding":{"color":{"condition":{"test":"datum.d===datum.cur","value":"#be9900"},"value":"#ffe38c"}}},
       {"transform":[{"filter":"datum.d!==datum.cur"}],"mark":{"type":"text","clip":true,"fontSize":14},"encoding":{"text":{"field":"d"}}},
       {"transform":[{"filter":"datum.d===datum.cur"}],"mark":{"type":"text","clip":true,"fontSize":14,"fontWeight":"bold"},"encoding":{"text":{"field":"d"}}}
      ]}},
    {"hconcat":[
     {"width":312,"height":17,"data":{"values":[{}]},"mark":{"type":"rect","clip":true,"fill":"#fff5cc","stroke":"#c8c8c8"},"encoding":{}},
     {"width":10,"height":17,"data":{"values":[{}]},"mark":{"type":"rect","clip":true,"fill":"#fffde4"},"encoding":{}}
    ],"spacing":0}
   ],"spacing":7}
  ],"spacing":9},
  {"hconcat":[
   {"width":152,"height":46,"data":{"values":[{"t":"出现次数"}]},
    "layer":[{"mark":{"type":"rect","clip":true,"fill":"#ffffff","stroke":"#bfbfbf"},"encoding":{}},{"mark":{"type":"text","clip":true,"font":"Noto Sans CJK SC","fontSize":13},"encoding":{"text":{"field":"t"}}}]},
   {"hconcat":[
    {"data":{"name":"cnt"},
     "facet":{"column":{"field":"p","type":"nominal","sort":["万位","千位","百位","十位","个位"],"header":null}},
     "spacing":13,"bounds":"flush","resolve":{"scale":{"y":"independent"}},
     "spec":{"width":190,"height":46,
      "transform":[{"fold":["0","1","2","3","4","5","6","7","8","9"],"as":["d","v"]}],
      "encoding":{"x":{"field":"d","type":"nominal","scale":{"domain":["0","1","2","3","4","5","6","7","8","9"]},"axis":null}},
      "layer":[
       {"mark":{"type":"rect","clip":true,"fill":"#ffffff","stroke":"#bfbfbf"}},
       {"mark":{"type":"bar","clip":true,"fill":"#c00000","width":12},"encoding":{"y":{"field":"v","type":"quantitative","scale":{"range":[46,13],"nice":false,"zero":true},"axis":null}}},
       {"mark":{"type":"text","clip":true,"baseline":"bottom","dy":-1,"fontSize":13.5},"encoding":{"y":{"field":"v","type":"quantitative","axis":null},"text":{"field":"v"}}}
      ]}},
    {"hconcat":[
     {"width":312,"height":46,"data":{"values":[{}]},"mark":{"type":"rect","clip":true,"fill":"#ffffff","stroke":"#d0d0d0"},"encoding":{}},
     {"width":10,"height":46,"data":{"values":[{}]},"mark":{"type":"rect","clip":true,"fill":"#fffde4"},"encoding":{}}
    ],"spacing":0}
   ],"spacing":7}
  ],"spacing":9},
  {"hconcat":[
   {"width":152,"height":17,"data":{"values":[{"t":"出现频率(%)"}]},
    "layer":[{"mark":{"type":"rect","clip":true,"fill":"#dbf3fc","stroke":"#bfbfbf"},"encoding":{}},{"mark":{"type":"text","clip":true,"font":"Noto Sans CJK SC","fontSize":13},"encoding":{"text":{"field":"t"}}}]},
   {"hconcat":[
    {"data":{"name":"frq"},
     "facet":{"column":{"field":"p","type":"nominal","sort":["万位","千位","百位","十位","个位"],"header":null}},
     "spacing":13,"bounds":"flush",
     "spec":{"width":190,"height":17,
      "transform":[{"fold":["0","1","2","3","4","5","6","7","8","9"],"as":["d","v"]}],
      "encoding":{"x":{"field":"d","type":"nominal","scale":{"domain":["0","1","2","3","4","5","6","7","8","9"]},"axis":null}},
      "layer":[
       {"mark":{"type":"rect","clip":true,"fill":"#dbf3fc","stroke":"#bfbfbf"}},
       {"mark":{"type":"text","clip":true,"fontSize":13.5},"encoding":{"text":{"field":"v"}}}
      ]}},
    {"hconcat":[
     {"width":312,"height":17,"data":{"values":[{}]},"mark":{"type":"rect","clip":true,"fill":"#ffffff","stroke":"#d0d0d0"},"encoding":{}},
     {"width":10,"height":17,"data":{"values":[{}]},"mark":{"type":"rect","clip":true,"fill":"#fffde4"},"encoding":{}}
    ],"spacing":0}
   ],"spacing":7}
  ],"spacing":9},
  {"hconcat":[
   {"width":152,"height":46,"data":{"values":[{"t":"当前遗漏值"}]},
    "layer":[{"mark":{"type":"rect","clip":true,"fill":"#ffffff","stroke":"#bfbfbf"},"encoding":{}},{"mark":{"type":"text","clip":true,"font":"Noto Sans CJK SC","fontSize":13},"encoding":{"text":{"field":"t"}}}]},
   {"hconcat":[
    {"data":{"name":"omi"},
     "facet":{"column":{"field":"p","type":"nominal","sort":["万位","千位","百位","十位","个位"],"header":null}},
     "spacing":13,"bounds":"flush","resolve":{"scale":{"y":"independent"}},
     "spec":{"width":190,"height":46,
      "transform":[{"fold":["0","1","2","3","4","5","6","7","8","9"],"as":["d","v"]}],
      "encoding":{"x":{"field":"d","type":"nominal","scale":{"domain":["0","1","2","3","4","5","6","7","8","9"]},"axis":null}},
      "layer":[
       {"mark":{"type":"rect","clip":true,"fill":"#ffffff","stroke":"#bfbfbf"}},
       {"mark":{"type":"bar","clip":true,"fill":"#c00000","width":12},"encoding":{"y":{"field":"v","type":"quantitative","scale":{"range":[46,13],"nice":false,"zero":true},"axis":null}}},
       {"mark":{"type":"text","clip":true,"baseline":"bottom","dy":-1,"fontSize":13.5},"encoding":{"y":{"field":"v","type":"quantitative","axis":null},"text":{"field":"v"}}}
      ]}},
    {"hconcat":[
     {"width":312,"height":46,"data":{"values":[{}]},"mark":{"type":"rect","clip":true,"fill":"#ffffff","stroke":"#d0d0d0"},"encoding":{}},
     {"width":10,"height":46,"data":{"values":[{}]},"mark":{"type":"rect","clip":true,"fill":"#fffde4"},"encoding":{}}
    ],"spacing":0}
   ],"spacing":7}
  ],"spacing":9},
  {"hconcat":[
   {"width":152,"height":136,"data":{"name":"s8"},"transform":[{"filter":"datum.p==='万位'"}],
    "encoding":{"y":{"field":"m","type":"nominal","scale":{"domain":["范围内最大遗漏值","当前平均遗漏值","历史最大遗漏值","当前连出值","范围内最大连出值","历史连出周期","历史最大连出值","理论欲出值"]},"axis":null}},
    "layer":[
     {"mark":{"type":"rect","clip":true,"stroke":"#bfbfbf"},"encoding":{"color":{"condition":{"test":"indexof(['当前平均遗漏值','历史最大遗漏值','历史连出周期','历史最大连出值'],datum.m)>=0","value":"#dbf3fc"},"value":"#ffffff"}}},
     {"mark":{"type":"text","clip":true,"font":"Noto Sans CJK SC","fontSize":13},"encoding":{"text":{"field":"m"}}}
    ]},
   {"hconcat":[
    {"data":{"name":"s8"},
     "facet":{"column":{"field":"p","type":"nominal","sort":["万位","千位","百位","十位","个位"],"header":null}},
     "spacing":13,"bounds":"flush",
     "spec":{"width":190,"height":136,
      "transform":[{"fold":["0","1","2","3","4","5","6","7","8","9"],"as":["d","v"]}],
      "encoding":{"x":{"field":"d","type":"nominal","scale":{"domain":["0","1","2","3","4","5","6","7","8","9"]},"axis":null},
       "y":{"field":"m","type":"nominal","scale":{"domain":["范围内最大遗漏值","当前平均遗漏值","历史最大遗漏值","当前连出值","范围内最大连出值","历史连出周期","历史最大连出值","理论欲出值"]},"axis":null}},
      "layer":[
       {"mark":{"type":"rect","clip":true,"stroke":"#bfbfbf"},"encoding":{"color":{"condition":{"test":"indexof(['当前平均遗漏值','历史最大遗漏值','历史连出周期','历史最大连出值'],datum.m)>=0","value":"#dbf3fc"},"value":"#ffffff"}}},
       {"mark":{"type":"text","clip":true,"fontSize":13.5},"encoding":{"text":{"field":"v"}}}
      ]}},
    {"hconcat":[
     {"width":312,"height":136,"data":{"values":[{}]},"mark":{"type":"rect","clip":true,"fill":"#ffffff","stroke":"#d0d0d0"},"encoding":{}},
     {"width":10,"height":136,"data":{"values":[{}]},"mark":{"type":"rect","clip":true,"fill":"#fffde4"},"encoding":{}}
    ],"spacing":0}
   ],"spacing":7}
  ],"spacing":9},
  {"width":1492,"height":13,"data":{"values":[{}]},"mark":{"type":"rect","clip":true,"fill":"#fffde4","stroke":"#c8c8c8"},"encoding":{}}
 ],"spacing":0}
]
}
